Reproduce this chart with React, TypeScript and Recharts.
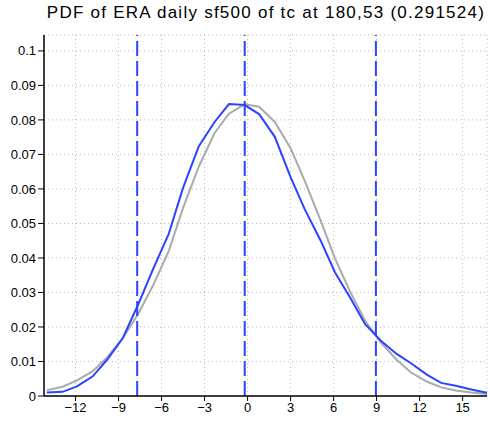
import { LineChart, Line, XAxis, YAxis, CartesianGrid, ReferenceLine } from "recharts"

const title = "PDF of ERA daily sf500 of tc at 180,53 (0.291524)"

const binCenters = [
  -14.0, -12.9, -11.9, -10.8, -9.8, -8.7, -7.6, -6.6, -5.5, -4.5,
  -3.4, -2.3, -1.3, -0.2, 0.8, 1.9, 3.0, 4.0, 5.1, 6.1,
  7.2, 8.2, 9.3, 10.4, 11.4, 12.5, 13.5, 14.6, 15.6, 16.7,
]
const eraPdf = [
  0.001, 0.0012, 0.0028, 0.0057, 0.0105, 0.0168, 0.0268, 0.0367, 0.047, 0.0603,
  0.0724, 0.0794, 0.0846, 0.0843, 0.0817, 0.0751, 0.0634, 0.054, 0.045, 0.0358,
  0.0282, 0.0208, 0.016, 0.0122, 0.0095, 0.0062, 0.0038, 0.0029, 0.0019, 0.0009,
]
const fitPdf = [
  0.0017, 0.0027, 0.0045, 0.0072, 0.0112, 0.0168, 0.024, 0.032, 0.042, 0.0545,
  0.0665, 0.0762, 0.0818, 0.0845, 0.0838, 0.0794, 0.0718, 0.0622, 0.0508, 0.0398,
  0.0298, 0.0218, 0.0155, 0.0105, 0.0068, 0.0042, 0.0025, 0.0015, 0.001, 0.0006,
]
const markers = [-7.7, -0.2, 8.95]
const xTicks = [-12, -9, -6, -3, 0, 3, 6, 9, 12, 15]
const yTicks = [0, 0.01, 0.02, 0.03, 0.04, 0.05, 0.06, 0.07, 0.08, 0.09, 0.1]

const data = binCenters.map((x, i) => ({ x, era: eraPdf[i], fit: fitPdf[i] }))

const font = "'Liberation Sans', Arial, sans-serif"
const blue = "#2a44ff"

export default function App() {
  return (
    <div style={{ position: "absolute", left: 0, top: 0, width: 490, height: 434, background: "#fff", fontFamily: font }}>
      <div style={{ position: "absolute", left: 0, top: 3, width: 490, paddingLeft: 42, boxSizing: "border-box", textAlign: "center", fontSize: 17, letterSpacing: 1.25, color: "#000" }}>
        {title}
      </div>
      <LineChart width={490} height={434} data={data} margin={{ top: 35, right: 3, bottom: 0, left: 0 }}>
        <CartesianGrid stroke="#bbb" strokeDasharray="1 3" />
        <XAxis
          dataKey="x"
          type="number"
          domain={[-14.2, 16.7]}
          ticks={xTicks}
          allowDataOverflow
          height={38}
          tick={{ fill: "#000", fontSize: 13, fontFamily: font }}
          tickLine={{ stroke: "#000" }}
          tickSize={5}
          axisLine={{ stroke: "#000", strokeWidth: 1.5 }}
          tickFormatter={(v) => (v < 0 ? "\u2212" + Math.abs(v) : String(v))}
        />
        <XAxis xAxisId="top" orientation="top" type="number" domain={[-14.2, 16.7]} height={0} tick={false} tickLine={false} axisLine={{ stroke: "#000", strokeWidth: 1.5 }} />
        <YAxis
          type="number"
          domain={[0, 0.1046]}
          ticks={yTicks}
          allowDataOverflow
          width={44}
          tick={{ fill: "#000", fontSize: 13, fontFamily: font }}
          tickLine={{ stroke: "#000" }}
          tickSize={6}
          axisLine={{ stroke: "#000", strokeWidth: 1.5 }}
          tickFormatter={(v) => String(Math.round(v * 100) / 100)}
        />
        <YAxis yAxisId="right" orientation="right" domain={[0, 0.1046]} width={0} tick={false} tickLine={false} axisLine={{ stroke: "#000", strokeWidth: 1.5 }} />
        <Line dataKey="fit" stroke="#aaaaaa" strokeWidth={2} dot={false} isAnimationActive={false} />
        <Line dataKey="era" stroke={blue} strokeWidth={2} dot={false} isAnimationActive={false} />
        {markers.map((m) => (
          <ReferenceLine key={m} x={m} stroke={blue} strokeWidth={2} strokeDasharray="15 5" />
        ))}
      </LineChart>
    </div>
  )
}
